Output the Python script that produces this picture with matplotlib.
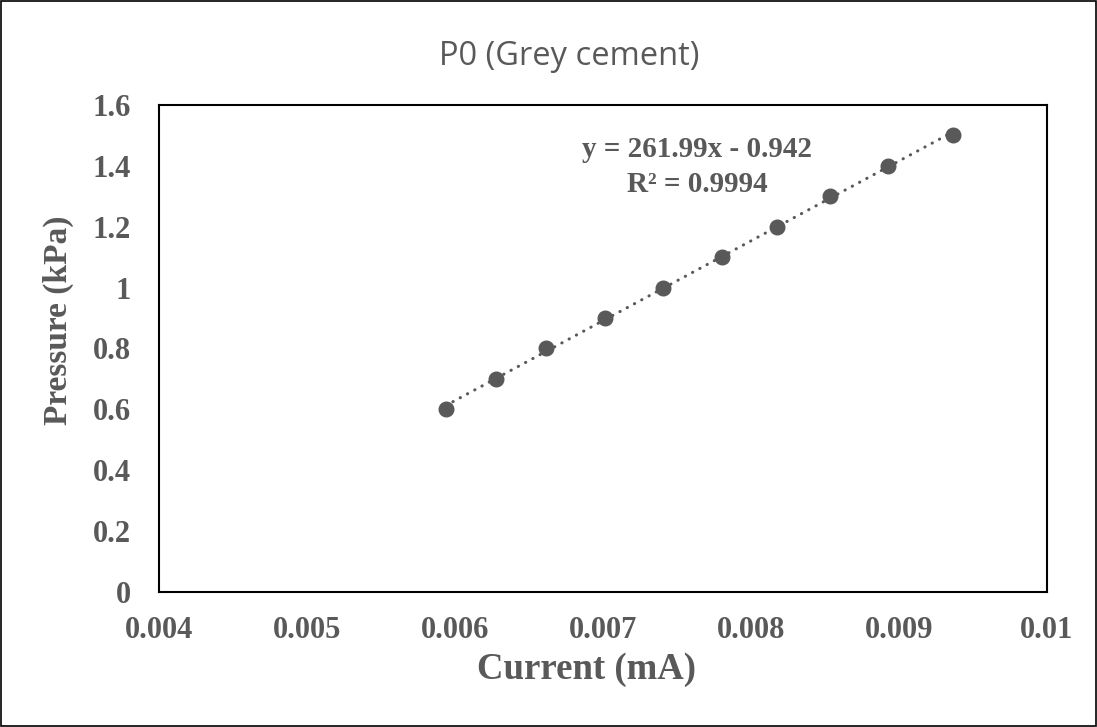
"""
P0 (Grey cement): pressure vs current calibration with linear trendline.
"""

import numpy as np
import matplotlib
matplotlib.use('Agg')
import matplotlib.pyplot as plt
from matplotlib.patches import Rectangle

# Data
current_ma = [0.005937, 0.006278, 0.006614, 0.007014, 0.007403,
              0.007807, 0.008176, 0.008537, 0.008924, 0.009363]
pressure_kpa = [0.6, 0.7, 0.8, 0.9, 1.0, 1.1, 1.2, 1.3, 1.4, 1.5]

x_ticks = [0.004, 0.005, 0.006, 0.007, 0.008, 0.009, 0.01]
x_tick_labels = ['0.004', '0.005', '0.006', '0.007', '0.008', '0.009', '0.01']
y_ticks = [0, 0.2, 0.4, 0.6, 0.8, 1.0, 1.2, 1.4, 1.6]
y_tick_labels = ['0', '0.2', '0.4', '0.6', '0.8', '1', '1.2', '1.4', '1.6']

equation_text = 'y = 261.99x - 0.942\nR² = 0.9994'
title_text = 'P0 (Grey cement)'

GREY = '#595959'
SERIF = ['Liberation Serif', 'DejaVu Serif']


def main():
    fig = plt.figure(figsize=(10.97, 7.27), dpi=100)
    ax = fig.add_axes([0.1449, 0.1857, 0.8095, 0.6699])

    # outer chart border
    fig.patches.append(Rectangle((0.001, 0.001), 0.998, 0.997, transform=fig.transFigure,
                                 fill=False, edgecolor='black', linewidth=1.2))

    x = np.array(current_ma)
    y = np.array(pressure_kpa)

    # linear trendline
    slope, intercept = np.polyfit(x, y, 1)
    xs = np.array([x.min(), x.max()])
    ax.plot(xs, slope * xs + intercept, color=GREY, linewidth=2.2,
            linestyle=(0, (0.1, 2.6)), dash_capstyle='round', zorder=2)

    ax.plot(x, y, 'o', color=GREY, markersize=10.5, zorder=3)

    ax.set_xlim(0.004, 0.01)
    ax.set_ylim(0, 1.6)
    ax.set_xticks(x_ticks)
    ax.set_xticklabels(x_tick_labels)
    ax.set_yticks(y_ticks)
    ax.set_yticklabels(y_tick_labels)
    ax.tick_params(length=0, colors=GREY)
    ax.tick_params(axis='x', pad=17.5)
    ax.tick_params(axis='y', pad=20)
    for lab in ax.get_xticklabels() + ax.get_yticklabels():
        lab.set_family(SERIF)
        lab.set_fontweight('bold')
        lab.set_fontsize(22)
        lab.set_color(GREY)

    for sp in ax.spines.values():
        sp.set_color('black')
        sp.set_linewidth(1.5)

    ax.set_xlabel('Current (mA)', family=SERIF, fontweight='bold', fontsize=26.5,
                  color=GREY)
    ax.set_ylabel('Pressure (kPa)', family=SERIF, fontweight='bold', fontsize=24,
                  color=GREY)
    ax.xaxis.set_label_coords(0.481, -0.123)
    ax.yaxis.set_label_coords(-0.096, 0.5585)

    ax.text(0.007635, 1.397, equation_text, ha='center', va='center', family=SERIF,
            fontweight='bold', fontsize=21, color=GREY, linespacing=1.38)

    fig.text(0.5189, 0.922, title_text, ha='center', va='center',
             family=['Open Sans', 'DejaVu Sans'], fontsize=23.5, color=GREY)

    fig.savefig('out.png', dpi=100)


if __name__ == '__main__':
    main()
